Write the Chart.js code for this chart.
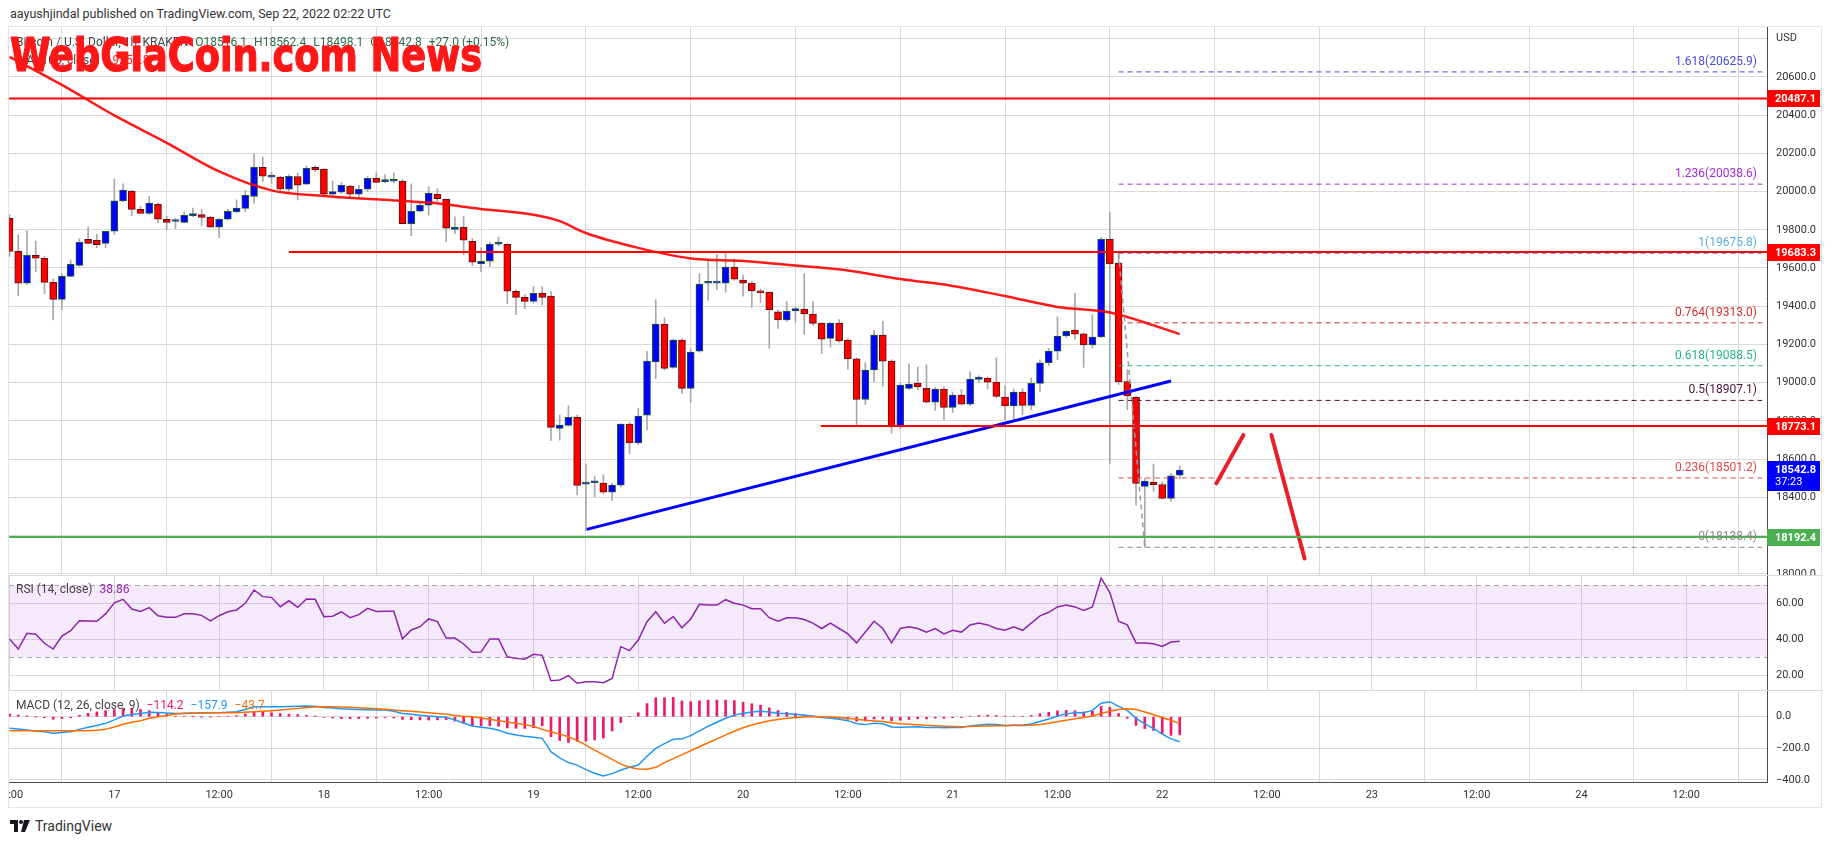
<!DOCTYPE html>
<html>
<head>
<meta charset="utf-8">
<script src="https://cdn.jsdelivr.net/npm/chart.js@4.4.0/dist/chart.umd.min.js"></script>
<style>
  body { margin:0; background:#fff; width:1834px; height:845px; overflow:hidden; position:relative; font-family:Roboto, "Noto Sans", sans-serif; color:#333; }
  .abs { position:absolute; white-space:nowrap; }
  #frame { left:8px; top:26px; width:1814px; height:782px; border:1px solid #e0e3eb; box-sizing:border-box; }
  canvas { position:absolute; }
  #header { left:10px; top:6px; font-size:12.5px; color:#333; }
  #legend1 { left:16px; top:35px; font-size:12px; color:#444; }
  #legend1 .v { color:#2c6e49; margin-left:4px; }
  #legend2 { left:16px; top:53px; font-size:12px; color:#444; }
  #legend2 .v { color:#ff2020; margin-left:6px; }
  #rsiLegend { left:16px; top:582px; font-size:12px; color:#444; }
  #macdLegend { left:16px; top:698px; font-size:12px; color:#444; }
  #watermark { left:10px; top:28px; font-family:"Liberation Sans Narrow", "DejaVu Sans Condensed", sans-serif; font-weight:bold; font-size:46px; color:#ff1717; -webkit-text-stroke:1.2px #ff1717; transform-origin:0 0; z-index:5; }
  #footer { left:10px; top:818px; font-size:14px; color:#333; display:flex; align-items:center; gap:5px; }
</style>
</head>
<body>
<div id="frame" class="abs"></div>
<canvas id="mainChart" width="1814" height="548" style="left:9px;top:27px"></canvas>
<canvas id="rsiChart" width="1814" height="115" style="left:9px;top:575px"></canvas>
<canvas id="macdChart" width="1814" height="119" style="left:9px;top:690px"></canvas>

<div id="header" class="abs">aayushjindal published on TradingView.com, Sep 22, 2022 02:22 UTC</div>
<div id="legend1" class="abs">Bitcoin / U.S. Dollar, 1h, KRAKEN <span class="v">O18516.1</span> <span class="v">H18562.4</span> <span class="v">L18498.1</span> <span class="v">C18542.8</span> <span class="v">+27.0 (+0.15%)</span></div>
<div id="legend2" class="abs">MA (100, close)<span class="v">19254.8</span></div>
<div id="watermark" class="abs">WebGiaCoin.com News</div>
<div id="rsiLegend" class="abs">RSI (14, close) <span style="color:#9c27b0;margin-left:4px">38.86</span></div>
<div id="macdLegend" class="abs">MACD (12, 26, close, 9) <span style="color:#f0146e;margin-left:4px">−114.2</span> <span style="color:#2196f3;margin-left:4px">−157.9</span> <span style="color:#ff6d00;margin-left:4px">−43.7</span></div>
<div id="footer" class="abs">
  <svg width="20" height="12" viewBox="0 0 20 12"><path d="M0 0h8v12H4V4H0z" fill="#131722"/><circle cx="11" cy="2" r="2" fill="#131722"/><path d="M14 0h6l-5 12h-4z" fill="#131722"/></svg>
  <span>TradingView</span>
</div>

<script>
// ----------------------------
// DATA
// x = hours since 16 Sep 2022 00:00 UTC, one candle per hour
// ----------------------------
const firstHour = 12;

const opens = [19860,19687,19520,19666,19651,19525,19436,19556,19614,19750,
  19745,19729,19792,19951,20003,19907,19886,19933,19855,19843,
  19839,19874,19879,19865,19813,19855,19895,19912,19974,20127,
  20075,20075,20012,20078,20038,20127,20117,19986,19996,20028,
  19986,20012,20069,20052,20054,20054,19832,19897,19928,19986,
  19960,19802,19813,19740,19623,19635,19724,19724,19478,19446,
  19425,19467,19453,18761,18776,18818,18469,18476,18474,18427,
  18464,18783,18684,18830,19108,19307,19080,19223,18970,19165,
  19520,19521,19521,19605,19537,19521,19480,19474,19371,19328,
  19375,19385,19359,19312,19232,19312,19223,19124,18912,19066,
  19249,19113,18768,18970,18998,18970,18898,18966,18871,18935,
  18888,19017,19024,19003,18925,18878,18951,18881,18996,19104,
  19165,19244,19275,19255,19197,19239,19750,19625,19005,18923,
  18457,18478,18467,18394,18516.1];
const highs = [19880,19773,19795,19741,19660,19542,19569,19642,19752,19815,
  19778,19792,20066,20040,20008,19923,19975,19939,19871,19860,
  19893,19914,19904,19871,19858,19907,19956,20007,20199,20181,
  20101,20080,20087,20096,20134,20134,20120,20055,20047,20033,
  20033,20078,20097,20087,20097,20064,20040,19940,20026,20014,
  19960,19867,19870,19755,19705,19736,19762,19726,19485,19460,
  19502,19502,19476,18830,18879,18830,18574,18511,18518,18474,
  18785,18792,18867,19164,19434,19338,19228,19230,19178,19570,
  19645,19670,19687,19647,19563,19530,19490,19474,19380,19424,
  19396,19570,19424,19312,19315,19330,19230,19130,19104,19274,
  19321,19120,18998,19099,19082,19094,18975,18980,18951,18963,
  19056,19036,19030,19129,18982,18967,18968,19024,19120,19178,
  19345,19272,19469,19260,19356,19760,19890,19675.8,19068,18930,
  18500,18574,18480,18525,18562.4];
const lows = [19660,19455,19514,19581,19466,19329,19382,19554,19610,19725,
  19706,19706,19776,19947,19874,19884,19881,19837,19801,19806,
  19836,19869,19822,19811,19759,19851,19888,19893,19939,20052,
  20042,20005,20000,19956,20036,20104,19980,19982,19990,19965,
  19966,20000,20046,20045,20045,19830,19769,19893,19877,19947,
  19738,19780,19670,19612,19581,19607,19715,19413,19356,19387,
  19415,19406,18696,18699,18773,18412,18225,18403,18420,18384,
  18454,18628,18676,18754,19021,19066,19075,18942,18897,19160,
  19432,19487,19473,19535,19452,19394,19420,19179,19284,19320,
  19316,19253,19300,19153,19186,19210,19071,18780,18886,19005,
  18982,18736,18760,18963,18963,18893,18855,18806,18844,18883,
  18880,19001,18968,18920,18806,18810,18832,18858,18954,19090,
  19120,19237,19227,19080,19180,19235,18577,18990,18857,18359,
  18138.4,18432,18390,18380,18498.1];
const closes = [19686,19520,19666,19651,19525,19436,19556,19619,19734,19729,
  19722,19792,19951,20007,19907,19886,19939,19855,19839,19843,
  19876,19874,19864,19813,19855,19897,19914,19980,20127,20080,
  20075,20012,20080,20033,20122,20115,19986,20000,20033,19986,
  20012,20069,20048,20052,20054,19832,19897,19928,19991,19963,
  19808,19813,19745,19630,19635,19724,19724,19478,19446,19425,
  19467,19446,18766,18778,18818,18462,18469,18476,18427,18464,
  18783,18684,18825,19113,19307,19075,19223,18970,19160,19516,
  19520,19521,19605,19542,19521,19480,19469,19382,19328,19375,
  19387,19359,19310,19228,19312,19218,19124,18912,19066,19249,
  19113,18768,18987,18993,18977,18898,18966,18871,18935,18888,
  19019,19029,19003,18928,18878,18951,18881,18996,19104,19165,
  19244,19268,19253,19197,19239,19750,19621,19005,18930,18473,
  18485,18466,18394,18512,18542.8];

// MA(100, close), sampled along the drawn line
const maHours = [12,18,24,30,36,42,48,54,60,66,72,75,78,84,90,96,102,108,114,120,126,132,138,142,146];
const maValues = [20705,20558,20398,20255,20105,20006,19977,19959,19942,19909,19878,19845,19783,19705,19650,19637,19613,19587,19542,19506,19453,19396,19367,19315,19254];

// RSI(14), one value per candle
const rsiValues = [40.2,34.6,43.3,42.8,37.8,34.6,41.8,44.8,50.3,50.2,
  50.0,54.1,60.3,62.2,56.8,55.5,57.6,53.1,52.2,52.2,
  54.2,54.2,53.3,50.2,53.1,55.3,56.3,60.0,67.4,63.7,
  63.3,58.1,61.4,57.8,62.4,62.2,52.6,52.8,55.2,52.0,
  53.7,57.2,55.5,55.6,55.6,40.3,45.2,47.0,51.3,49.8,
  40.7,40.7,37.4,32.8,33.0,40.2,40.2,30.3,29.4,28.9,
  31.7,31.1,17.0,17.4,19.8,15.6,16.4,16.4,15.9,18.3,
  35.9,33.7,39.6,49.8,55.3,48.9,52.6,46.4,51.3,59.4,
  59,59,62,60,59,57,57,52,50,52,
  52,51,49,46,49,46,43,38,44,50,
  46,38,46,47,46,44,46,43,45,44,
  48,49,48,46,45,47,45,49,53,55,
  58,59,58,56,58,74,66,50,48,38,
  38,37.5,36,38.5,38.86];

// MACD(12, 26, 9), one value per candle
const macdValues = [-73,-78,-84,-90,-95,-105,-100,-95,-80,-67,
  -55,-42,-20,4,14,21,28,26,23,21,
  22,23,24,24,25,28,32,45,63,63,
  63,63,64,66,68,66,59,55,50,47,
  45,44,43,42,35,21,15,10,4,0,
  -4,-20,-40,-59,-66,-73,-85,-105,-115,-124,
  -130,-137,-221,-260,-290,-306,-335,-358,-375,-360,
  -337,-320,-306,-250,-200,-170,-143,-140,-120,-90,
  -60,-35,-10,10,22,30,35,30,22,18,
  15,10,4,-5,-10,-16,-25,-45,-50,-42,
  -45,-65,-66,-65,-64,-68,-66,-70,-68,-68,
  -58,-52,-48,-50,-55,-52,-54,-46,-30,-14,
  5,18,25,25,40,85,95,65,40,-10,
  -45,-75,-110,-140,-157.9];
const signalValues = [-89,-89,-89,-89,-89,-89,-89,-89,-89,-88,
  -85,-80,-65,-48,-35,-25,-10,0,8,17,
  20,22,25,25,25,25,25,28,31,34,
  38,43,48,52,59,61,63,63,62,60,
  57,54,51,47,43,38,34,30,25,20,
  15,8,3,0,-8,-16,-25,-34,-42,-50,
  -60,-80,-95,-110,-127,-150,-180,-211,-240,-270,
  -300,-320,-331,-333,-320,-290,-265,-240,-215,-190,
  -165,-140,-115,-92,-70,-52,-38,-26,-17,-10,
  -5,-2,0,0,-2,-5,-9,-16,-23,-27,
  -31,-38,-44,-48,-51,-54,-57,-60,-62,-63,
  -62,-60,-58,-57,-57,-56,-56,-54,-49,-42,
  -32,-22,-13,-5,4,20,35,45,50,45,
  30,12,-5,-22,-43.7];
const histValues = [16,11,5,-1,-6,-16,-11,-6,9,21,
  30,38,45,52,49,46,38,26,15,4,
  2,1,-1,-1,0,3,7,17,32,29,
  25,20,16,14,9,5,-4,-8,-12,-13,
  -12,-10,-8,-5,-8,-17,-19,-20,-21,-20,
  -19,-28,-43,-59,-58,-57,-60,-71,-73,-74,
  -70,-57,-126,-150,-163,-156,-155,-147,-135,-90,
  -37,0,25,83,120,120,122,100,95,100,
  105,105,105,102,92,82,73,56,39,28,
  20,12,4,-5,-8,-11,-16,-29,-27,-15,
  -14,-27,-22,-17,-13,-14,-9,-10,-6,-5,
  4,8,10,7,2,4,2,8,19,28,
  37,40,38,30,36,65,60,20,-10,-55,
  -75,-87,-105,-118,-114.2];

// axes
const timeTickHours = [12,24,36,48,60,72,84,96,108,120,132,144,156,168,180,192,204];
const timeTickLabels = ['12:00','17','12:00','18','12:00','19','12:00','20','12:00','21','12:00','22','12:00','23','12:00','24','12:00'];
const priceTicks = [18000,18200,18400,18600,18800,19000,19200,19400,19600,19800,20000,20200,20400,20600,20800];
const rsiTicks = [20,40,60];
const macdTicks = [-400,-200,0];

// drawings
const levelPrices = [20487.1, 19683.3, 18773.1, 18192.4];
const levelStartHours = [11.9, 44, 104.9, 11.9];
const fibRatios = [1.618, 1.236, 1, 0.764, 0.618, 0.5, 0.236, 0];
const fibPrices = [20625.9, 20038.6, 19675.8, 19313.0, 19088.5, 18907.1, 18501.2, 18138.4];
const fibHours = [139, 212.7];
const trendHours = [78.1, 145];
const trendPrices = [18232, 19009];
const arrowUpHours = [150.2, 153.3];
const arrowUpPrices = [18473, 18726];
const arrowDownHours = [156.5, 160.3];
const arrowDownPrices = [18726, 18080];
const lastPrice = 18542.8;
const countdown = '37:23';

// ----------------------------
// STYLES
// ----------------------------
const levelColors = ['#ff0000', '#ff0000', '#ff0000', '#4caf50'];
const fibColors = ['#4a4ad8', '#a22bd6', '#5aaee0', '#d32f2f', '#26b57f', '#4a1230', '#e04545', '#8a8a8a'];
const gridColor = '#dadada';
const axisLine = '#4a4a4a';
const fontFamily = 'Roboto, "Noto Sans", sans-serif';
const X_MIN = 11.94, X_MAX = 213.25;

Chart.defaults.font.family = fontFamily;
Chart.defaults.font.size = 11;
Chart.defaults.color = '#333';

const hours = opens.map((_, i) => firstHour + i);
const pts = (xs, ys) => xs.map((x, i) => ({ x: x, y: ys[i] }));

// ----------------------------
// SHARED AXIS HELPERS
// ----------------------------
function fixY(s) { s.width = 56; s.paddingTop = 0; s.paddingBottom = 0; }
function fixXHidden(s) { s.height = 0; s.paddingLeft = 0; s.paddingRight = 0; }
function fixXTime(s) { s.height = 27; s.paddingLeft = 0; s.paddingRight = 0; }

function xAxis(showLabels) {
    return {
        type: 'linear', min: X_MIN, max: X_MAX, offset: false,
        afterBuildTicks: s => { s.ticks = timeTickHours.map(v => ({ value: v })); },
        afterFit: showLabels ? fixXTime : fixXHidden,
        grid: { color: gridColor, drawTicks: false },
        border: { display: showLabels, color: axisLine },
        ticks: {
            display: showLabels, autoSkip: false, maxRotation: 0, padding: 7,
            callback: v => timeTickLabels[timeTickHours.indexOf(v)]
        }
    };
}

function yAxis(min, max, tickList, fmt) {
    return {
        position: 'right', min: min, max: max,
        afterBuildTicks: s => { s.ticks = tickList.map(v => ({ value: v })); },
        afterFit: fixY,
        grid: { color: gridColor, drawTicks: false },
        border: { color: axisLine },
        ticks: { padding: 9, autoSkip: false, callback: fmt }
    };
}

function lineSet(data, color, width, dash, order) {
    return {
        type: 'line', data: data, borderColor: color, borderWidth: width,
        borderDash: dash || [], pointRadius: 0, fill: false, order: order || 1
    };
}

// separator line on top of a pane
const paneTop = {
    id: 'paneTop',
    afterDraw(chart) {
        const ctx = chart.ctx;
        ctx.save();
        ctx.strokeStyle = '#d6d9e0';
        ctx.beginPath();
        ctx.moveTo(0, 0.5);
        ctx.lineTo(chart.width, 0.5);
        ctx.stroke();
        ctx.restore();
    }
};

// ----------------------------
// MAIN PRICE PANE
// ----------------------------
const mainOverlay = {
    id: 'mainOverlay',
    afterDatasetsDraw(chart) {
        const { ctx, chartArea, scales: { y } } = chart;
        ctx.save();
        ctx.font = '12px ' + fontFamily;
        ctx.textAlign = 'right';
        ctx.textBaseline = 'middle';
        fibRatios.forEach((r, i) => {
            ctx.fillStyle = fibColors[i];
            ctx.fillText(r + '(' + fibPrices[i].toFixed(1) + ')', chartArea.right - 10, y.getPixelForValue(fibPrices[i]) - 10);
        });
        ctx.restore();
    },
    afterDraw(chart) {
        const { ctx, chartArea, scales: { y } } = chart;
        const x0 = chartArea.right;
        ctx.save();
        ctx.font = 'bold 11px ' + fontFamily;
        ctx.textBaseline = 'middle';
        ctx.textAlign = 'left';
        levelPrices.forEach((p, i) => {
            const py = Math.round(y.getPixelForValue(p));
            ctx.fillStyle = levelColors[i];
            ctx.fillRect(x0, py - 8, 53, 17);
            ctx.fillStyle = '#fff';
            ctx.fillText(p.toFixed(1), x0 + 8, py + 1);
        });
        const ly = Math.round(y.getPixelForValue(lastPrice));
        ctx.fillStyle = '#0000ff';
        ctx.fillRect(x0, ly - 9, 53, 30);
        ctx.fillStyle = '#fff';
        ctx.fillText(lastPrice.toFixed(1), x0 + 8, ly);
        ctx.font = '11px ' + fontFamily;
        ctx.fillText(countdown, x0 + 8, ly + 12);
        ctx.restore();
    }
};

const datasets = [
    {
        type: 'bar', data: pts(hours, hours.map((h, i) => [lows[i], highs[i]])),
        backgroundColor: '#a8a8a8', barThickness: 1, grouped: false, order: 6
    },
    {
        type: 'bar', data: pts(hours, hours.map((h, i) => [opens[i], closes[i]])),
        backgroundColor: hours.map((h, i) => closes[i] >= opens[i] ? '#0000ff' : '#ff0000'),
        borderColor: hours.map((h, i) => closes[i] >= opens[i] ? '#1f5a2e' : '#5a1010'),
        borderWidth: 1, borderSkipped: false, barThickness: 7, minBarLength: 2,
        grouped: false, order: 5
    },
    Object.assign(lineSet(pts(maHours, maValues), 'rgba(255,0,0,0.9)', 2.5, null, 3), { cubicInterpolationMode: 'monotone' })
];

fibPrices.forEach((p, i) => {
    datasets.push(lineSet(pts(fibHours, [p, p]), fibColors[i], 1, [5, 4], 2));
});
datasets.push(lineSet(pts([fibHours[0], 142], [fibPrices[2], fibPrices[7]]), '#9a9a9a', 1.5, [5, 4], 2));
levelPrices.forEach((p, i) => {
    datasets.push(lineSet(pts([levelStartHours[i], X_MAX], [p, p]), levelColors[i], 2, null, 1));
});
datasets.push(lineSet(pts(trendHours, trendPrices), '#0000ff', 3, null, 1));
datasets.push(Object.assign(lineSet(pts(arrowUpHours, arrowUpPrices), '#e8202a', 4, null, 1), { borderCapStyle: 'round' }));
datasets.push(Object.assign(lineSet(pts(arrowDownHours, arrowDownPrices), '#e8202a', 4, null, 1), { borderCapStyle: 'round' }));

new Chart(document.getElementById('mainChart'), {
    type: 'bar',
    data: { datasets: datasets },
    options: {
        responsive: false, animation: false,
        plugins: { legend: { display: false }, tooltip: { enabled: false } },
        scales: {
            x: xAxis(false),
            y: yAxis(17993.5, 20860.9, priceTicks, v => v === 20800 ? 'USD' : v.toFixed(1))
        }
    },
    plugins: [mainOverlay]
});

// ----------------------------
// RSI PANE
// ----------------------------
const rsiBand = {
    id: 'rsiBand',
    beforeDatasetsDraw(chart) {
        const { ctx, chartArea, scales: { y } } = chart;
        const top = y.getPixelForValue(70), bot = y.getPixelForValue(30);
        ctx.save();
        ctx.fillStyle = 'rgba(156, 60, 230, 0.11)';
        ctx.fillRect(chartArea.left, top, chartArea.width, bot - top);
        ctx.strokeStyle = '#a8a8b0';
        ctx.setLineDash([5, 4]);
        [top, bot].forEach(py => {
            ctx.beginPath();
            ctx.moveTo(chartArea.left, Math.round(py) + 0.5);
            ctx.lineTo(chartArea.right, Math.round(py) + 0.5);
            ctx.stroke();
        });
        ctx.restore();
    }
};

new Chart(document.getElementById('rsiChart'), {
    type: 'line',
    data: { datasets: [lineSet(pts(hours, rsiValues), '#8e24aa', 1.5)] },
    options: {
        responsive: false, animation: false,
        plugins: { legend: { display: false }, tooltip: { enabled: false } },
        scales: {
            x: xAxis(false),
            y: yAxis(11.83, 75.72, rsiTicks, v => v.toFixed(2))
        }
    },
    plugins: [rsiBand, paneTop]
});

// ----------------------------
// MACD PANE
// ----------------------------
new Chart(document.getElementById('macdChart'), {
    type: 'bar',
    data: {
        datasets: [
            { type: 'bar', data: pts(hours, histValues), backgroundColor: '#ec1a6a', barThickness: 2, order: 5 },
            lineSet(pts(hours, macdValues), '#2196f3', 1.5, null, 2),
            lineSet(pts(hours, signalValues), '#ff6d00', 1.5, null, 1)
        ]
    },
    options: {
        responsive: false, animation: false,
        plugins: { legend: { display: false }, tooltip: { enabled: false } },
        scales: {
            x: xAxis(true),
            y: yAxis(-413, 169, macdTicks, v => v.toFixed(1).replace('-', '\u2212'))
        }
    },
    plugins: [paneTop]
});

// ----------------------------
// WATERMARK WIDTH
// ----------------------------
const wm = document.getElementById('watermark');
wm.style.transform = 'scale(' + (472 / wm.offsetWidth) + ', 1)';
</script>
</body>
</html>
